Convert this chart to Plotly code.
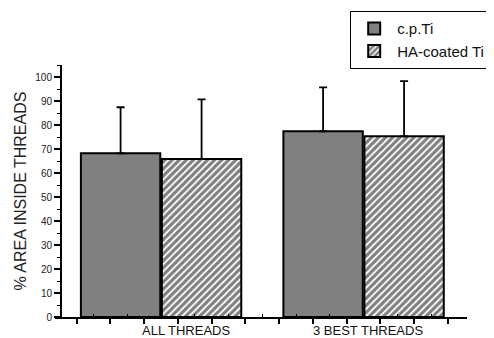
import plotly.graph_objects as go

groups = ["ALL THREADS", "3 BEST THREADS"]
group_pos = [2.5, 8.5]
cp_ti = [68.2, 77.4]
cp_ti_err = [19.2, 18.3]
ha_ti = [65.8, 75.3]
ha_ti_err = [24.9, 23.0]
series_names = ["c.p.Ti", "HA-coated Ti"]
y_tickvals = list(range(0, 101, 10))

fig = go.Figure()
fig.add_trace(go.Bar(
    x=group_pos, y=cp_ti, name=series_names[0],
    marker=dict(color="#808080", line=dict(color="black", width=2)),
    error_y=dict(type="data", array=cp_ti_err, arrayminus=[0, 0], symmetric=False,
                 color="black", thickness=1.8, width=4),
))
fig.add_trace(go.Bar(
    x=group_pos, y=ha_ti, name=series_names[1],
    marker=dict(color="white", line=dict(color="black", width=2),
                pattern=dict(shape="/", fgcolor="black", bgcolor="white", size=5, solidity=0.65)),
    error_y=dict(type="data", array=ha_ti_err, arrayminus=[0, 0], symmetric=False,
                 color="black", thickness=1.8, width=4),
))

for g, xp in zip(groups, [3.24, 8.63]):
    fig.add_annotation(x=xp, y=-0.052, xref="x", yref="paper", yanchor="middle",
                       text=g, showarrow=False, borderpad=0,
                       font=dict(family="Arial, Liberation Sans", size=13, color="#111"))

# page body has an 8px margin, so the figure is 8px smaller than the window
fig.update_layout(
    width=486, height=330,
    margin=dict(l=47, r=27, t=57, b=21, autoexpand=False),
    paper_bgcolor="white", plot_bgcolor="white",
    barmode="group", bargap=0.2, bargroupgap=0.02,
    font=dict(family="Arial, Liberation Sans", color="#222"),
    legend=dict(x=0.716, y=1.214, xanchor="left", yanchor="top",
                bordercolor="black", borderwidth=1.2, bgcolor="white",
                font=dict(size=15, color="#111"), tracegroupgap=0,
                itemwidth=36),
    xaxis=dict(range=[-0.643, 11.564], showgrid=False, zeroline=False,
               showline=True, linecolor="black", linewidth=2,
               tickmode="array", tickvals=list(range(0, 12)), showticklabels=False,
               ticks="outside", ticklen=5, tickwidth=1.5, tickcolor="black",
               minor=dict(tickvals=[i + 0.5 for i in range(0, 11)], ticks="inside",
                          ticklen=3, tickwidth=1, tickcolor="black")),
    yaxis=dict(range=[0, 105], showgrid=False, zeroline=False,
               anchor="free", position=(61 - 55) / 412,
               showline=True, linecolor="black", linewidth=2,
               tickmode="array", tickvals=y_tickvals,
               ticks="outside", ticklen=6, tickwidth=1.5, tickcolor="black",
               minor=dict(dtick=5, ticks="outside", ticklen=3, tickwidth=1, tickcolor="black"),
               tickfont=dict(size=10, color="#222"),
               title=dict(text="% AREA INSIDE THREADS", standoff=4,
                          font=dict(size=16, color="#222"))),
)

fig.write_html("out.html")
